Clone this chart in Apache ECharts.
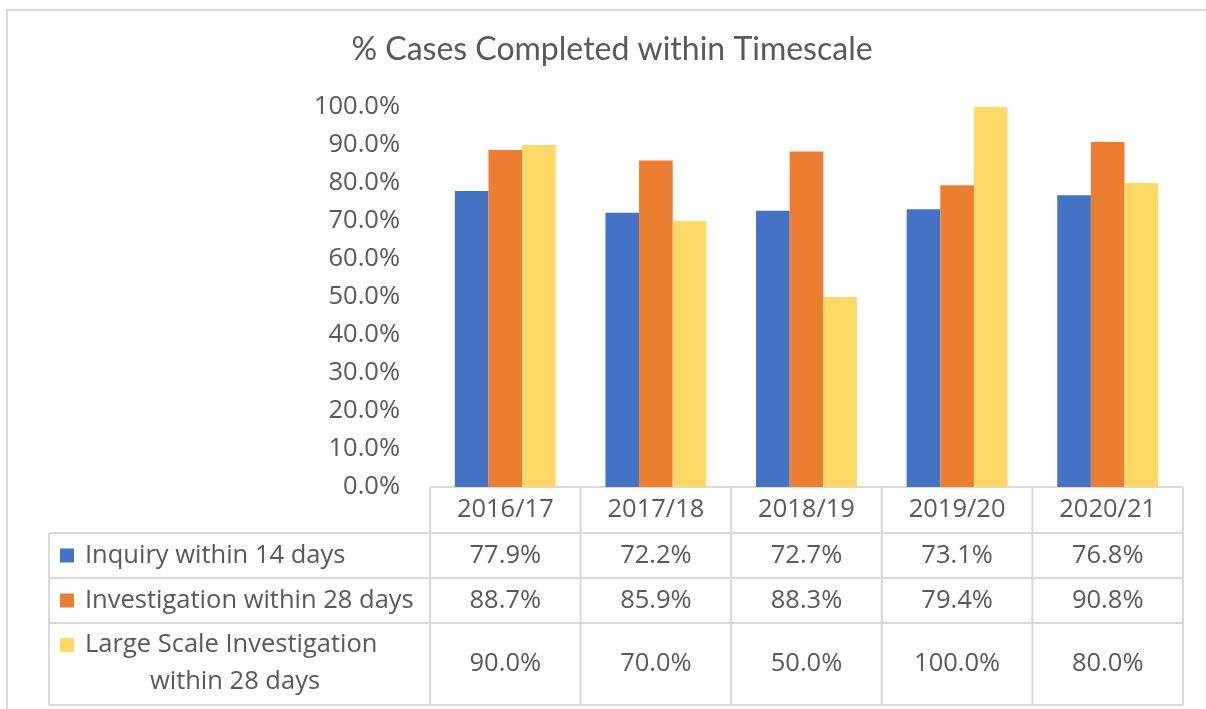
<!DOCTYPE html>
<html><head><meta charset="utf-8">
<script src="https://cdn.jsdelivr.net/npm/echarts@6/dist/echarts.min.js"></script>
<style>html,body{margin:0;padding:0;background:#fff}#c{width:1206px;height:709px}</style>
</head><body><div id="c"></div>
<script>
const categories = ['2016/17','2017/18','2018/19','2019/20','2020/21'];
const seriesNames = ['Inquiry within 14 days','Investigation within 28 days','Large Scale Investigation within 28 days'];
const inquiry14 = [0.779,0.722,0.727,0.731,0.768];
const investigation28 = [0.887,0.859,0.883,0.794,0.908];
const largeScale28 = [0.90,0.70,0.50,1.00,0.80];
const yTicks = [0,0.1,0.2,0.3,0.4,0.5,0.6,0.7,0.8,0.9,1.0];
const colors = ['#4472C4','#ED7D31','#FFD966'];
const allSeries = [inquiry14, investigation28, largeScale28];

const fmt = v => (v*100).toFixed(1)+'%';
const TXT = '#595959', LINE = '#D9D9D9', FONT = 'Open Sans', FS = 25.5;

const chart = echarts.init(document.getElementById('c'));
chart.setOption({
  animation:false,
  backgroundColor:'#fff',
  title:{text:'% Cases Completed within Timescale',left:607,top:29,textAlign:'center',
    textStyle:{fontFamily:'Lato',fontWeight:'normal',fontSize:32,color:TXT}},
  grid:{left:430,right:23,top:107,bottom:222},
  xAxis:{type:'category',data:categories,axisLabel:{show:false},axisTick:{show:false},axisLine:{show:false}},
  yAxis:{type:'value',min:yTicks[0],max:yTicks[yTicks.length-1],interval:0.1,
    axisLabel:{formatter:fmt,fontFamily:FONT,fontSize:FS,color:TXT,margin:30},
    splitLine:{show:false},axisLine:{show:false},axisTick:{show:false}},
  series: allSeries.map((d,i)=>({type:'bar',name:seriesNames[i],data:d,itemStyle:{color:colors[i]},
    barGap:'0%',barCategoryGap:'33%'}))
});

// Data table built from the arrays, positioned from the axis scale
const x0 = chart.convertToPixel({xAxisIndex:0}, categories[0]);
const x1 = chart.convertToPixel({xAxisIndex:0}, categories[1]);
const colW = x1 - x0;
const tableLeft = x0 - colW/2;
const tableRight = tableLeft + colW*categories.length;
const yTop = chart.convertToPixel({yAxisIndex:0}, 0);
const rowBounds = [yTop, yTop+46, yTop+91, yTop+136, yTop+218];
const legendLeft = 49;
const g = [];
const line = (xa,ya,xb,yb)=>g.push({type:'line',shape:{x1:xa,y1:ya,x2:xb,y2:yb},style:{stroke:LINE,lineWidth:2},silent:true});
line(tableLeft,rowBounds[0],tableRight,rowBounds[0]);
for(let r=1;r<rowBounds.length;r++) line(legendLeft,rowBounds[r],tableRight,rowBounds[r]);
for(let c=0;c<=categories.length;c++){ const x=tableLeft+colW*c; line(x,rowBounds[0],x,rowBounds[4]); }
line(legendLeft,rowBounds[1],legendLeft,rowBounds[4]);
g.push({type:'rect',shape:{x:7,y:10,width:1240,height:760},style:{fill:'none',stroke:'#D9D9D9',lineWidth:2},silent:true});
const txt = (x,y,s,align)=>g.push({type:'text',x:x,y:y,style:{text:s,fill:TXT,font:FS+'px "'+FONT+'"',textAlign:align||'center',textVerticalAlign:'middle'},silent:true});
categories.forEach((c,i)=>txt(tableLeft+colW*(i+0.5),(rowBounds[0]+rowBounds[1])/2,c));
allSeries.forEach((d,r)=>{
  const yc=(rowBounds[r+1]+rowBounds[r+2])/2;
  d.forEach((v,i)=>txt(tableLeft+colW*(i+0.5),yc,fmt(v)));
});
const keyY = [ (rowBounds[1]+rowBounds[2])/2, (rowBounds[2]+rowBounds[3])/2, rowBounds[3]+22 ];
seriesNames.forEach((n,r)=>{
  g.push({type:'rect',shape:{x:60,y:keyY[r]-7,width:14,height:14},style:{fill:colors[r]},silent:true});
});
txt(85,keyY[0],seriesNames[0],'left');
txt(85,keyY[1],seriesNames[1],'left');
txt(85,keyY[2],'Large Scale Investigation','left');
txt(235,keyY[2]+37,'within 28 days','center');
chart.setOption({graphic:g});
</script></body></html>
